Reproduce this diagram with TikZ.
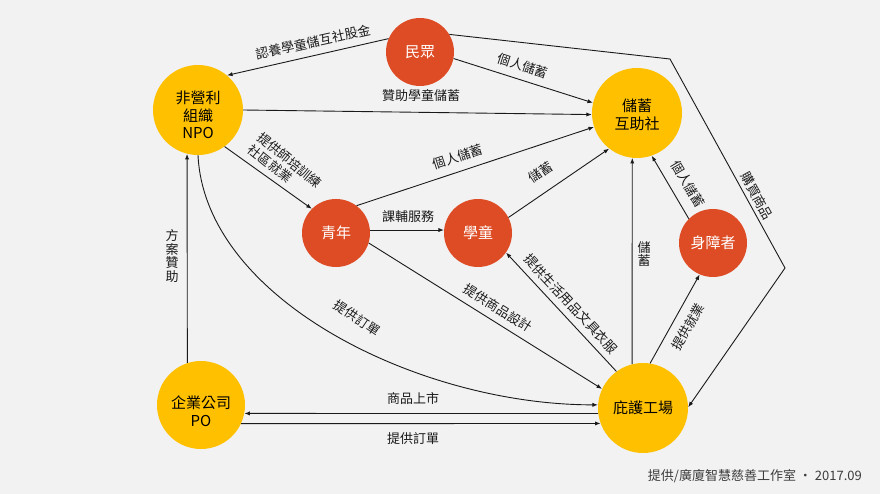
\documentclass[tikz,border=0pt]{standalone}
\usepackage{fontspec}
\setmainfont{Noto Sans CJK TC}
\usetikzlibrary{arrows.meta}

\definecolor{paper}{HTML}{F2F2F2}
\definecolor{gold}{HTML}{FFC000}
\definecolor{vermil}{HTML}{DE4C25}
\definecolor{ink}{HTML}{1A1A1A}
\definecolor{credit}{HTML}{3C3C3C}

\begin{document}
\begin{tikzpicture}[x=1pt,y=-1pt,
  bigdisc/.style={circle,fill=gold,draw=none,minimum size=90pt,inner sep=0pt},
  smalldisc/.style={circle,fill=vermil,draw=none,minimum size=68pt,inner sep=0pt,
    text=white,font=\fontsize{15}{17}\selectfont},
  disctext/.style={align=center,text=black,inner sep=0pt,
    font=\fontsize{15}{17.5}\selectfont},
  conn/.style={draw=ink,line width=0.9pt,-{Latex[length=5.5pt,width=4.2pt]}},
  plain/.style={draw=ink,line width=0.9pt},
  lbl/.style={inner sep=0pt,text=ink,font=\fontsize{13}{15}\selectfont},
  vlbl/.style={inner sep=0pt,text=ink,align=center,font=\fontsize{13}{13.4}\selectfont}
]
\fill[paper] (0,0) rectangle (880,494);
\useasboundingbox (0,0) rectangle (880,494);

% actors
\node[bigdisc] (npo)  at (198,110) {};
\node[bigdisc] (coop) at (637,113) {};
\node[bigdisc,minimum size=88pt] (corp) at (201,405) {};
\node[bigdisc] (shop) at (643,408) {};
\node[smalldisc] (crowd) at (420,52)  {民眾};
\node[smalldisc] (youth) at (336,233) {青年};
\node[smalldisc] (kids)  at (478,233) {學童};
\node[smalldisc] (disab) at (713,243) {身障者};

\node[disctext] (npo-t)  at (198,115) {非營利\\組織\\NPO};
\node[disctext] (coop-t) at (637,115) {儲蓄\\互助社};
\node[disctext] (corp-t) at (201,411) {企業公司\\PO};
\node[disctext] (shop-t) at (643,408) {庇護工場};

% flows
\draw[conn] (crowd.157) -- (npo.50);
\draw[conn] (crowd.-11) -- (coop.167);
\coordinate (bendA) at (670,59);
\coordinate (bendB) at (785,268);
\draw[plain] (crowd.31) -- (bendA) -- (bendB);
\draw[conn] (bendB) -- (shop.1);
\draw[conn] (npo.0) -- (coop.182);
\draw[conn] (npo.-54) -- (youth.135);
\draw[conn] (youth.53) -- (coop.-162);
\draw[conn] (kids.27) -- (coop.-128);
\draw[conn] (youth.5) -- (kids.175);
\draw[conn] (youth.-17) -- (shop.155);
\draw[conn] (npo.-90) .. controls (205,300) and (420,405) .. (shop.176);
\draw[conn] (shop.126) -- (kids.-35);
\draw[conn] (shop.104) -- (coop.-96);
\draw[conn] (shop.81) -- (disab.-113);
\draw[conn] (disab.135) -- (coop.-71);
\draw[conn] (corp.108.5) -- (npo.-104);
\draw[conn] (shop.187.7) -- (corp.-11.8);
\draw[conn] (corp.-25.6) -- (shop.200.8);

% flow labels
\node[lbl,rotate=12.5] (l-adopt) at (313,42) {認養學童儲互社股金};
\node[lbl,rotate=-18] (l-save1) at (523,66) {個人儲蓄};
\node[lbl,rotate=-61] (l-buy) at (757,196) {購買商品};
\node[lbl] (l-sponsor) at (421,96) {贊助學童儲蓄};
\node[lbl,rotate=-39,align=left,font=\fontsize{13}{15}\selectfont] (l-train) at (285,166) {提供師培訓練\\社區就業};
\node[lbl,rotate=18] (l-save2) at (458,157) {個人儲蓄};
\node[lbl,rotate=34] (l-save3) at (541,172) {儲蓄};
\node[lbl] (l-tutor) at (408,217) {課輔服務};
\node[lbl,rotate=-32] (l-design) at (498,308) {提供商品設計};
\node[lbl,rotate=-34] (l-order1) at (357,318) {提供訂單};
\node[lbl,rotate=-47] (l-goods) at (571,304) {提供生活用品文具衣服};
\node[vlbl] (l-save4) at (644,254) {儲\\蓄};
\node[lbl,rotate=60] (l-job) at (688,327) {提供就業};
\node[lbl,rotate=-59.5] (l-save5) at (688,184) {個人儲蓄};
\node[vlbl] (l-fund) at (172,256) {方\\案\\贊\\助};
\node[lbl] (l-market) at (413,399) {商品上市};
\node[lbl] (l-order2) at (413,439) {提供訂單};

% credit line
\node[lbl,anchor=east,text=credit,font=\fontsize{13}{15}\selectfont] (credit) at (862,476) {提供/廣廈智慧慈善工作室 · 2017.09};
\end{tikzpicture}
\end{document}
